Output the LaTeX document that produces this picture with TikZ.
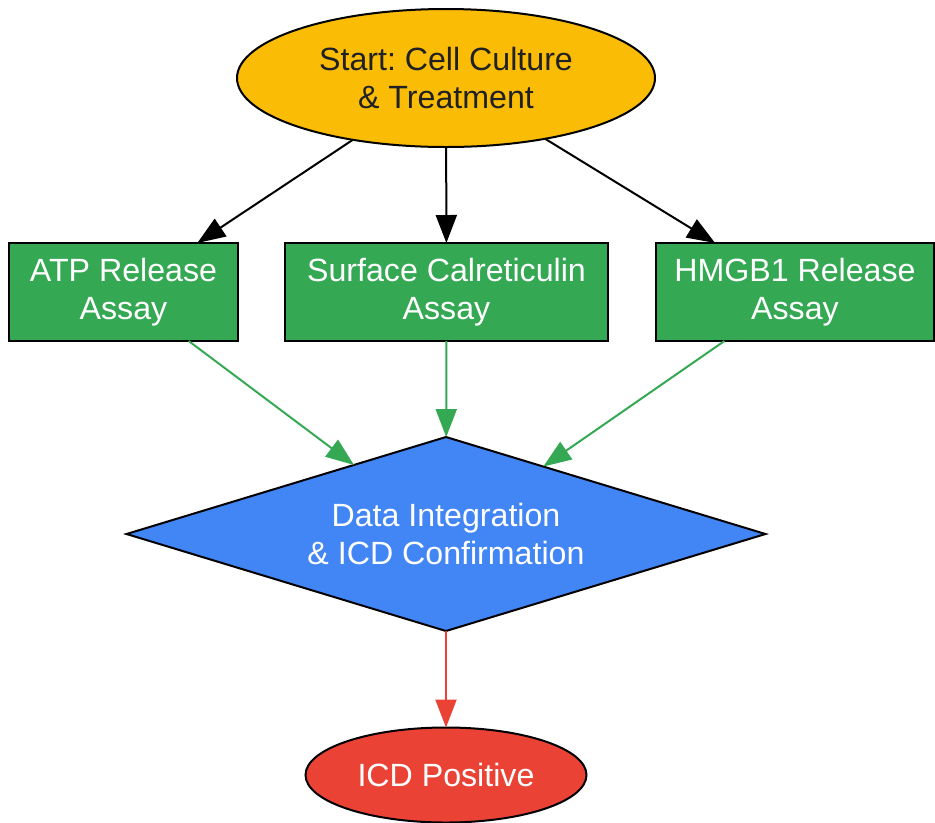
\documentclass[tikz,border=0pt]{standalone}
\usepackage{fontspec}
\setmainfont{Liberation Sans}
\usetikzlibrary{shapes.geometric, arrows.meta}

\definecolor{startyellow}{HTML}{FBBC05}
\definecolor{assaygreen}{HTML}{34A853}
\definecolor{decideblue}{HTML}{4285F4}
\definecolor{endred}{HTML}{EA4335}
\definecolor{darktext}{HTML}{202124}

\begin{document}
\frenchspacing
\begin{tikzpicture}[font=\fontsize{18.3}{21.6}\selectfont, line width=0.04cm,
	every node/.style={align=center, inner sep=0pt, outer sep=0pt, draw=black, line width=0.04cm},
	startnode/.style={ellipse, fill=startyellow, text=darktext, minimum width=8.36cm, minimum height=2.76cm},
	assaybox/.style={rectangle, fill=assaygreen, text=white, minimum height=1.96cm},
	decision/.style={diamond, shape aspect=3.29, fill=decideblue, text=white, minimum width=12.78cm, minimum height=3.88cm},
	endnode/.style={ellipse, fill=endred, text=white, minimum width=5.62cm, minimum height=1.9cm},
	link/.style={-{Triangle[length=0.56cm, width=0.42cm]}, line width=0.04cm}]
	
	\useasboundingbox (0, 0) rectangle (18.7, -16.44);
	
	% Start
	\node[startnode] (start) at (8.92, -1.56) {Start: Cell Culture\\\& Treatment};
	
	% Assays
	\node[assaybox, minimum width=4.58cm] (atp) at (2.47, -5.84) {ATP Release\\Assay};
	\node[assaybox, minimum width=6.46cm] (crt) at (8.93, -5.84) {Surface Calreticulin\\Assay};
	\node[assaybox, minimum width=5.56cm] (hmgb) at (15.9, -5.84) {HMGB1 Release\\Assay};
	
	% Integration
	\node[decision] (integ) at (8.92, -10.68) {Data Integration\\\& ICD Confirmation};
	
	% Result
	\node[endnode] (icd) at (8.92, -15.5) {ICD Positive};
	
	\draw[link, black] (start) -- (atp);
	\draw[link, black] (start) -- (crt);
	\draw[link, black] (start) -- (hmgb);
	
	\draw[link, assaygreen] (atp) -- (integ);
	\draw[link, assaygreen] (crt) -- (integ);
	\draw[link, assaygreen] (hmgb) -- (integ);
	
	\draw[link, endred] (integ) -- (icd);
	
\end{tikzpicture}
\end{document}
